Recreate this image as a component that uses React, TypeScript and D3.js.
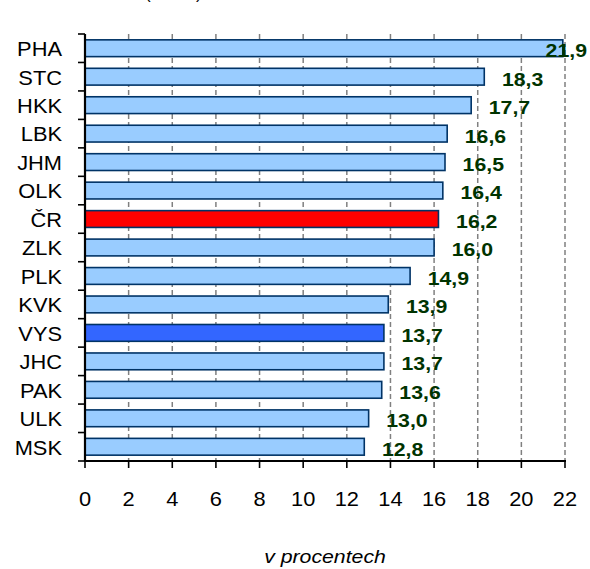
import React from "react";
import * as d3 from "d3";

const categories = ["PHA","STC","HKK","LBK","JHM","OLK","ČR","ZLK","PLK","KVK","VYS","JHC","PAK","ULK","MSK"];
const values = [21.9,18.3,17.7,16.6,16.5,16.4,16.2,16.0,14.9,13.9,13.7,13.7,13.6,13.0,12.8];
const highlight: Record<string,string> = { "ČR": "#ff0000", "VYS": "#3366ff" };
const xTicks = [0,2,4,6,8,10,12,14,16,18,20,22];
const axisTitle = "v procentech";

const W = 590, H = 569;
const margin = { left: 85, right: 25, top: 34, bottom: 108 };

export default function App() {
  const x = d3.scaleLinear().domain([0, 22]).range([margin.left, W - margin.right]);
  const y = d3.scaleBand<string>().domain(categories)
    .range([margin.top, H - margin.bottom]).paddingInner(0.41).paddingOuter(0.205);
  const step = y.step();
  const y0 = margin.top, y1 = H - margin.bottom;
  const font = "'Liberation Sans', Arial, sans-serif";
  const fmt = (v: number) => v.toFixed(1).replace(".", ",");
  const st = (tx: number, ty: number, sx: number) => `translate(${tx},${ty}) scale(${sx},1)`;
  return (
    <svg width={W} height={H} style={{ position: "absolute", left: 0, top: 0 }} fontFamily={font}>
      <rect width={W} height={H} fill="#fff" />
      {/* cut-off title remnants */}
      <text x={145} y={-1} fontSize={17} fill="#000">(</text>
      <text x={196} y={-1} fontSize={17} fill="#000">)</text>
      {xTicks.filter(t => t > 0).map(t => (
        <line key={"g"+t} x1={x(t)} x2={x(t)} y1={y0} y2={y1} stroke="#808080" strokeWidth={1.5} strokeDasharray="5,3" />
      ))}
      {categories.map((c, i) => (
        <rect key={c} x={x(0)} y={y(c)!} width={x(values[i]) - x(0)} height={y.bandwidth()}
          fill={highlight[c] ?? "#99ccff"} stroke="#003366" strokeWidth={1.6} />
      ))}
      {/* axes */}
      <line x1={x(0)} x2={x(0)} y1={y0} y2={y1 + 1} stroke="#000" strokeWidth={2.2} />
      <line x1={x(0) - 1} x2={x(22)+1} y1={y1} y2={y1} stroke="#000" strokeWidth={2.2} />
      {d3.range(categories.length + 1).map(i => (
        <line key={"yt"+i} x1={x(0) - 7} x2={x(0)} y1={y0 + i * step} y2={y0 + i * step} stroke="#000" strokeWidth={1.6} />
      ))}
      {xTicks.map(t => (
        <line key={"xt"+t} x1={x(t)} x2={x(t)} y1={y1} y2={y1 + 7} stroke="#000" strokeWidth={1.6} />
      ))}
      {categories.map(c => (
        <text key={"l"+c} transform={st(62, y(c)! + y.bandwidth() / 2 + 0.8, 1.12)} dy="0.36em" textAnchor="end" fontSize={19.5} fill="#000">{c}</text>
      ))}
      {xTicks.map(t => (
        <text key={"xl"+t} transform={st(x(t), 499, 1.12)} dy="0.36em" textAnchor="middle" fontSize={19.5} fill="#000">{t}</text>
      ))}
      {categories.map((c, i) => (
        <text key={"v"+c} transform={st(Math.min(x(values[i]) + 59, W - 3), y(c)! + y.bandwidth() / 2 + 2.2, 1.15)} dy="0.36em"
          textAnchor="end" fontSize={18.5} fontWeight="bold" fill="#003300">{fmt(values[i])}</text>
      ))}
      <text transform={st(325, 556, 1.15)} dy="0.36em" textAnchor="middle" fontSize={18.5} fontStyle="italic" fill="#000">{axisTitle}</text>
    </svg>
  );
}
